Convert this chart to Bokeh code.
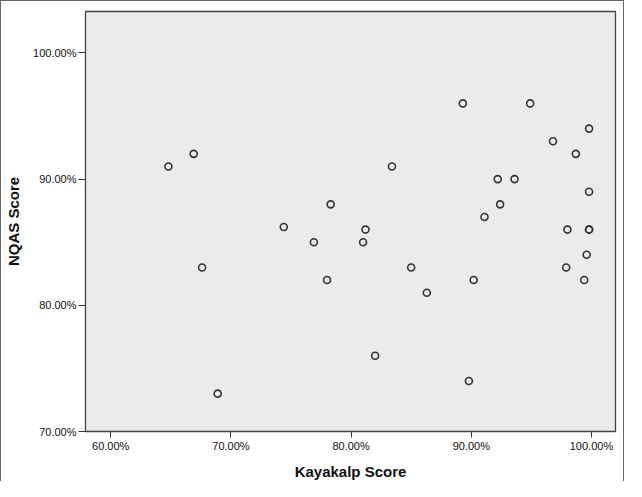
from bokeh.plotting import figure
from bokeh.models import FixedTicker, PrintfTickFormatter, Range1d
from bokeh.embed import file_html
from bokeh.resources import INLINE

kayakalp = [64.8, 66.9, 67.6, 68.9, 74.4, 76.9, 78.0, 78.3, 81.0, 81.2, 82.0, 83.4,
            85.0, 86.3, 89.3, 89.8, 90.2, 91.1, 92.2, 92.4, 93.6, 94.9, 96.8, 97.9,
            98.0, 98.7, 99.4, 99.6, 99.8, 99.8, 99.8, 99.8]
nqas = [91, 92, 83, 73, 86.2, 85, 82, 88, 85, 86, 76, 91,
        83, 81, 96, 74, 82, 87, 90, 88, 90, 96, 93, 83,
        86, 92, 82, 84, 86, 86, 89, 94]
x_ticks = [60, 70, 80, 90, 100]
y_ticks = [70, 80, 90, 100]

p = figure(width=624, height=481, output_backend="svg", toolbar_location=None,
           x_range=Range1d(57.9, 102.0), y_range=Range1d(70, 103.28),
           min_border_left=84, min_border_top=10, min_border_right=10, min_border_bottom=45,
           background_fill_color="#ebebeb", border_fill_color="white",
           outline_line_color="#444444", outline_line_width=1.3,
           styles={"border-left": "1px solid #666666", "border-top": "1px solid #666666",
                   "border-right": "1px solid #666666"})

p.scatter(kayakalp, nqas, marker="circle", size=7, fill_color=None,
          line_color="#333333", line_width=1.6)

p.grid.visible = False
for ax in (p.xaxis[0], p.yaxis[0]):
    ax.major_label_text_font = "Liberation Sans"
    ax.major_label_text_font_size = "11px"
    ax.major_label_text_color = "#111111"
    ax.major_label_standoff = 2
    ax.axis_label_text_font = "Liberation Sans"
    ax.axis_label_text_font_size = "15px"
    ax.axis_label_text_font_style = "bold"
    ax.axis_label_text_color = "#111111"
    ax.axis_line_color = "#444444"
    ax.major_tick_line_color = "#333333"
    ax.major_tick_in = 0
    ax.minor_tick_line_color = None
    ax.formatter = PrintfTickFormatter(format="%.2f%%")

p.xaxis.major_tick_out = 6
p.yaxis.major_tick_out = 7
p.xaxis.ticker = FixedTicker(ticks=x_ticks)
p.yaxis.ticker = FixedTicker(ticks=y_ticks)
p.xaxis.axis_label = "Kayakalp Score"
p.yaxis.axis_label = "NQAS Score"
p.xaxis.axis_label_standoff = 8
p.yaxis.axis_label_standoff = 8

open("out.html", "w").write(file_html(p, INLINE))
